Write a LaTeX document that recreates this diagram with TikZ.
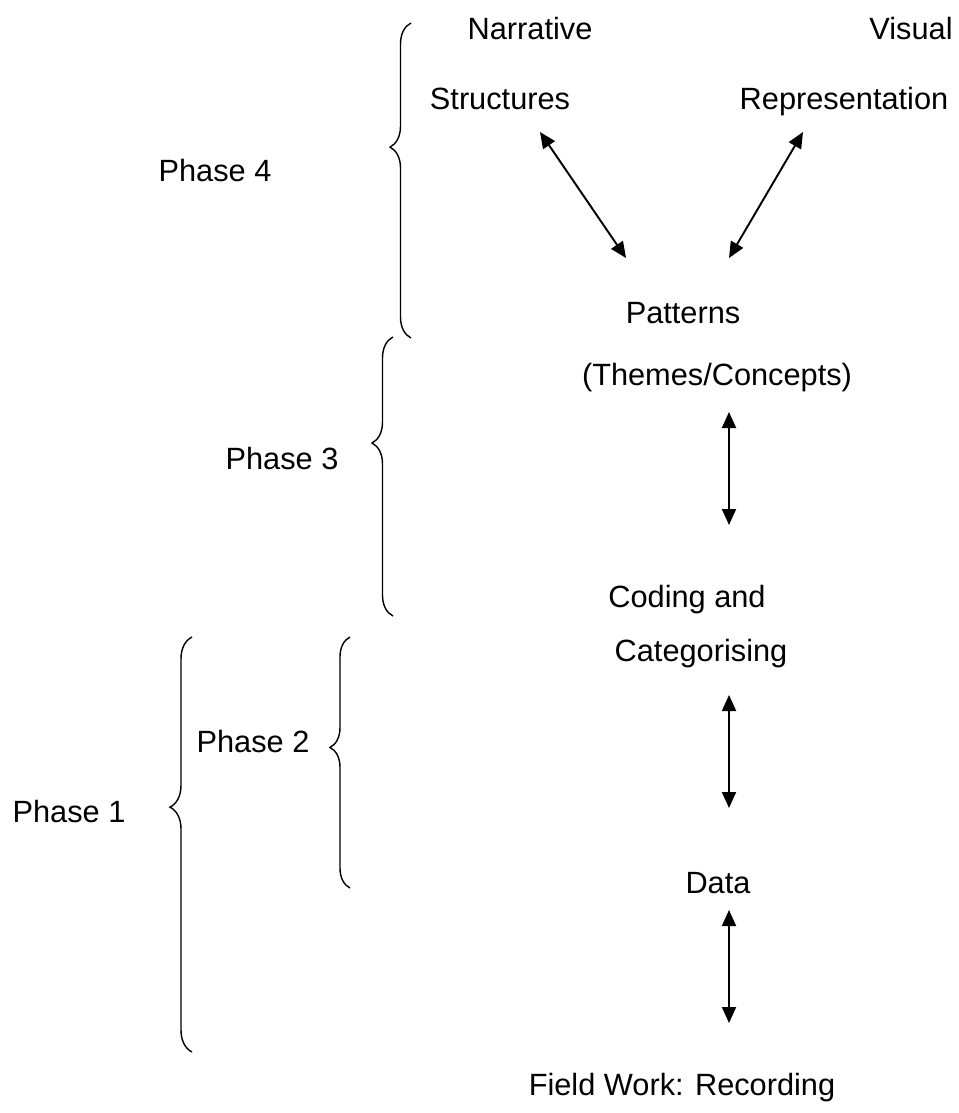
\documentclass[tikz,border=0pt]{standalone}
\usepackage{fontspec}
\setmainfont{Liberation Sans}
\usepackage{tikz}
\usetikzlibrary{arrows.meta, positioning, calc, decorations.pathreplacing}

\begin{document}
\begin{tikzpicture}[x=0.02cm, y=-0.02cm, >={Triangle[length=3.2mm, width=2.8mm]}]
    % Styles
    \tikzstyle{lbl} = [anchor=base, inner sep=0pt, font=\fontsize{17.5}{21}\selectfont]
    \tikzstyle{link} = [draw, line width=1.1pt, <->]
    \tikzstyle{phasebrace} = [draw, line width=0.8pt, decorate]

    \useasboundingbox (0,0) rectangle (958,1113);

    % Nodes
    \node [lbl] (narr) at (530,39) {Narrative};
    \node [lbl] (struct) at (500,109) {Structures};
    \node [lbl] (visual) at (911,39) {Visual};
    \node [lbl] (repr) at (844,109) {Representation};
    \node [lbl] (patt) at (683,323) {Patterns};
    \node [lbl] (themes) at (717,385) {(Themes/Concepts)};
    \node [lbl] (coding) at (687,607) {Coding and};
    \node [lbl] (categ) at (701,661) {Categorising};
    \node [lbl] (data) at (718,893) {Data};
    \node [lbl] (field) at (682,1095) {Field Work: Recording};

    \node [lbl] (ph4) at (215,181) {Phase 4};
    \node [lbl] (ph3) at (282,469) {Phase 3};
    \node [lbl] (ph2) at (253,752) {Phase 2};
    \node [lbl] (ph1) at (69,822) {Phase 1};

    % Arrow ends
    \coordinate (s1) at (540,132);
    \coordinate (s2) at (626,258);
    \coordinate (r1) at (803,132);
    \coordinate (r2) at (729,258);
    \coordinate (t1) at (729,412);
    \coordinate (t2) at (729,525);
    \coordinate (c1) at (729,695);
    \coordinate (c2) at (729,808);
    \coordinate (d1) at (729,910);
    \coordinate (d2) at (729,1023);

    % Paths
    \path [link] (s1) -- (s2);
    \path [link] (r1) -- (r2);
    \path [link] (t1) -- (t2);
    \path [link] (c1) -- (c2);
    \path [link] (d1) -- (d2);

    % Braces
    \path [phasebrace, decoration={brace, amplitude=0.42cm, aspect=0.606}] (411,338) -- (411,23);
    \path [phasebrace, decoration={brace, amplitude=0.42cm, aspect=0.62}] (393,616) -- (393,337);
    \path [phasebrace, decoration={brace, amplitude=0.40cm, aspect=0.56}] (350,888) -- (350,637);
    \path [phasebrace, decoration={brace, amplitude=0.44cm, aspect=0.59}] (192,1052) -- (192,637);

\end{tikzpicture}
\end{document}
